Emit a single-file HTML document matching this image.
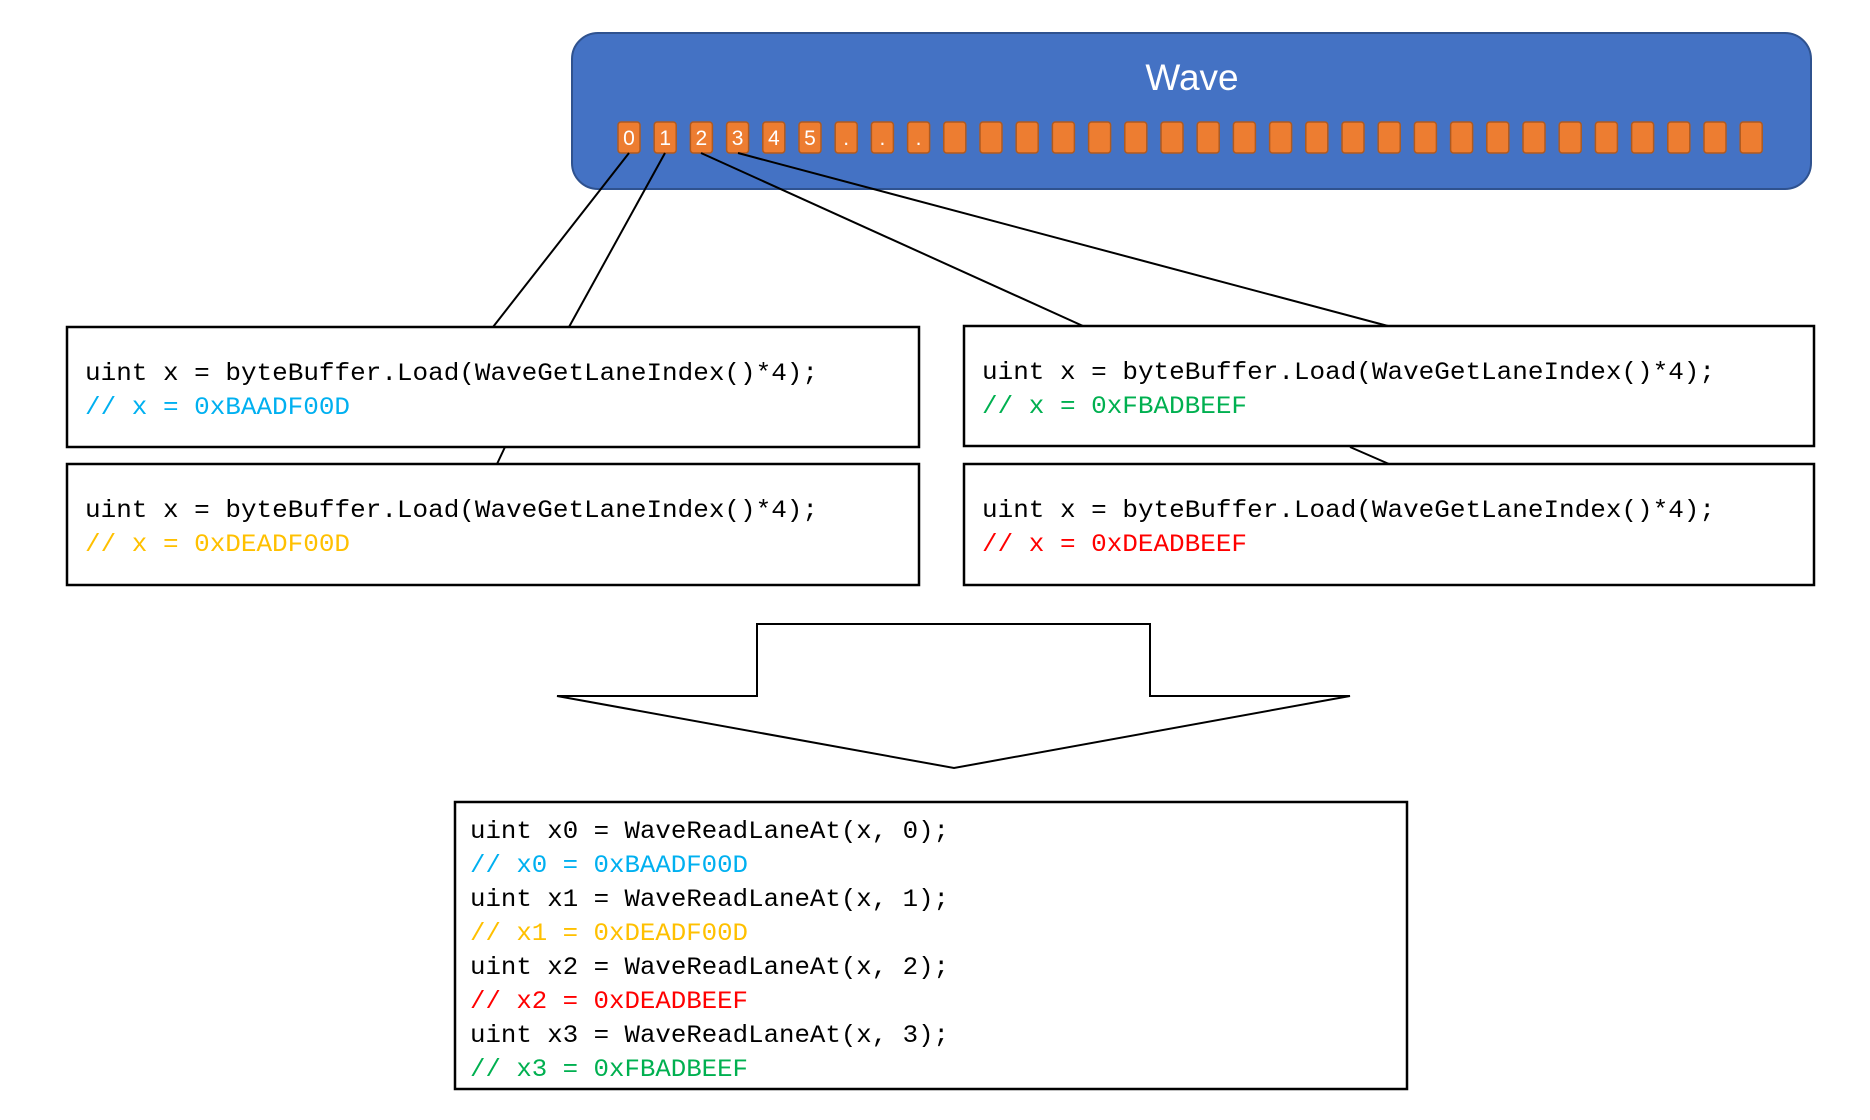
<!DOCTYPE html>
<html><head><meta charset="utf-8"><style>
html,body{margin:0;padding:0;background:#fff;}
svg{display:block;}
.c{font-family:"Liberation Mono",monospace;font-size:25px;}
</style></head><body>
<svg width="1870" height="1120" viewBox="0 0 1870 1120" xmlns="http://www.w3.org/2000/svg">
<rect x="0" y="0" width="1870" height="1120" fill="#fff"/>
<rect x="572" y="33" width="1239" height="156" rx="26" fill="#4472C4" stroke="#2F528F" stroke-width="2"/>
<text x="1192" y="90" text-anchor="middle" font-family="Liberation Sans, sans-serif" font-size="37" fill="#fff">Wave</text>
<g fill="#ED7D31" stroke="#AE5A21" stroke-width="1.5">
<rect x="618" y="122" width="22" height="31" rx="3"/><rect x="654.2" y="122" width="22" height="31" rx="3"/><rect x="690.4" y="122" width="22" height="31" rx="3"/><rect x="726.6" y="122" width="22" height="31" rx="3"/><rect x="762.8" y="122" width="22" height="31" rx="3"/><rect x="799" y="122" width="22" height="31" rx="3"/><rect x="835.2" y="122" width="22" height="31" rx="3"/><rect x="871.4" y="122" width="22" height="31" rx="3"/><rect x="907.6" y="122" width="22" height="31" rx="3"/><rect x="943.8" y="122" width="22" height="31" rx="3"/><rect x="980" y="122" width="22" height="31" rx="3"/><rect x="1016.2" y="122" width="22" height="31" rx="3"/><rect x="1052.4" y="122" width="22" height="31" rx="3"/><rect x="1088.6" y="122" width="22" height="31" rx="3"/><rect x="1124.8" y="122" width="22" height="31" rx="3"/><rect x="1161" y="122" width="22" height="31" rx="3"/><rect x="1197.2" y="122" width="22" height="31" rx="3"/><rect x="1233.4" y="122" width="22" height="31" rx="3"/><rect x="1269.6" y="122" width="22" height="31" rx="3"/><rect x="1305.8" y="122" width="22" height="31" rx="3"/><rect x="1342" y="122" width="22" height="31" rx="3"/><rect x="1378.2" y="122" width="22" height="31" rx="3"/><rect x="1414.4" y="122" width="22" height="31" rx="3"/><rect x="1450.6" y="122" width="22" height="31" rx="3"/><rect x="1486.8" y="122" width="22" height="31" rx="3"/><rect x="1523" y="122" width="22" height="31" rx="3"/><rect x="1559.2" y="122" width="22" height="31" rx="3"/><rect x="1595.4" y="122" width="22" height="31" rx="3"/><rect x="1631.6" y="122" width="22" height="31" rx="3"/><rect x="1667.8" y="122" width="22" height="31" rx="3"/><rect x="1704" y="122" width="22" height="31" rx="3"/><rect x="1740.2" y="122" width="22" height="31" rx="3"/>
</g>
<g font-family="Liberation Sans, sans-serif" font-size="21" fill="#fff" text-anchor="middle">
<text x="629" y="145">0</text><text x="665.2" y="145">1</text><text x="701.4" y="145">2</text><text x="737.6" y="145">3</text><text x="773.8" y="145">4</text><text x="810" y="145">5</text><text x="846.2" y="145">.</text><text x="882.4" y="145">.</text><text x="918.6" y="145">.</text>
</g>
<g stroke="#000" stroke-width="2" fill="none">
<line x1="629" y1="153" x2="493" y2="327"/>
<line x1="665" y1="153" x2="569" y2="327"/>
<line x1="701" y1="153" x2="1083" y2="326"/>
<line x1="738" y1="153" x2="1388" y2="326"/>
<line x1="505" y1="447" x2="497" y2="464"/>
<line x1="1350" y1="447" x2="1389" y2="464"/>
<rect x="67" y="327" width="852" height="120" stroke-width="2.5"/>
<rect x="67" y="464" width="852" height="121" stroke-width="2.5"/>
<rect x="964" y="326" width="850" height="120" stroke-width="2.5"/>
<rect x="964" y="464" width="850" height="121" stroke-width="2.5"/>
<polygon points="757,624 1150,624 1150,696 1350,696 954,768 557,696 757,696" fill="#fff"/>
<rect x="455" y="802" width="952" height="287" stroke-width="2.5"/>
</g>
<g class="c">
<text x="85" y="380" textLength="733" lengthAdjust="spacingAndGlyphs">uint x = byteBuffer.Load(WaveGetLaneIndex()*4);</text>
<text x="85" y="414" fill="#00B0F0" textLength="265" lengthAdjust="spacingAndGlyphs">// x = 0xBAADF00D</text>
<text x="85" y="517" textLength="733" lengthAdjust="spacingAndGlyphs">uint x = byteBuffer.Load(WaveGetLaneIndex()*4);</text>
<text x="85" y="551" fill="#FFC000" textLength="265" lengthAdjust="spacingAndGlyphs">// x = 0xDEADF00D</text>
<text x="982" y="379" textLength="733" lengthAdjust="spacingAndGlyphs">uint x = byteBuffer.Load(WaveGetLaneIndex()*4);</text>
<text x="982" y="413" fill="#00B050" textLength="265" lengthAdjust="spacingAndGlyphs">// x = 0xFBADBEEF</text>
<text x="982" y="517" textLength="733" lengthAdjust="spacingAndGlyphs">uint x = byteBuffer.Load(WaveGetLaneIndex()*4);</text>
<text x="982" y="551" fill="#FF0000" textLength="265" lengthAdjust="spacingAndGlyphs">// x = 0xDEADBEEF</text>
<text x="470" y="838" textLength="479" lengthAdjust="spacingAndGlyphs">uint x0 = WaveReadLaneAt(x, 0);</text>
<text x="470" y="872" fill="#00B0F0" textLength="278" lengthAdjust="spacingAndGlyphs">// x0 = 0xBAADF00D</text>
<text x="470" y="906" textLength="479" lengthAdjust="spacingAndGlyphs">uint x1 = WaveReadLaneAt(x, 1);</text>
<text x="470" y="940" fill="#FFC000" textLength="278" lengthAdjust="spacingAndGlyphs">// x1 = 0xDEADF00D</text>
<text x="470" y="974" textLength="479" lengthAdjust="spacingAndGlyphs">uint x2 = WaveReadLaneAt(x, 2);</text>
<text x="470" y="1008" fill="#FF0000" textLength="278" lengthAdjust="spacingAndGlyphs">// x2 = 0xDEADBEEF</text>
<text x="470" y="1042" textLength="479" lengthAdjust="spacingAndGlyphs">uint x3 = WaveReadLaneAt(x, 3);</text>
<text x="470" y="1076" fill="#00B050" textLength="278" lengthAdjust="spacingAndGlyphs">// x3 = 0xFBADBEEF</text>
</g>
</svg>
</body></html>
